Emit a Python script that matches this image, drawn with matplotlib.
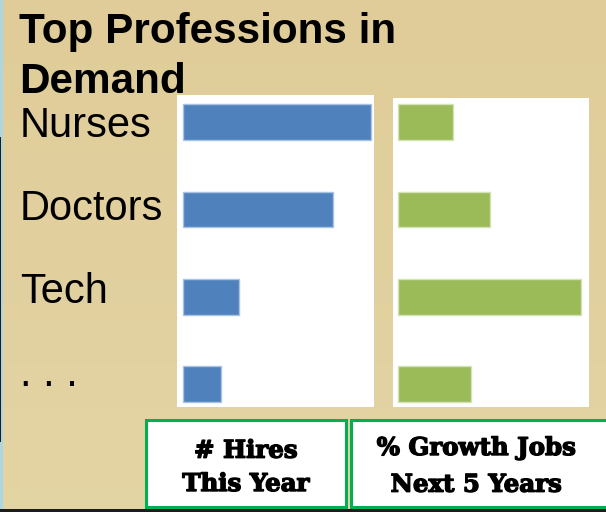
import matplotlib
matplotlib.use("Agg")
import matplotlib.pyplot as plt
import matplotlib.patheffects as pe
import numpy as np
from matplotlib.patches import Rectangle

# Data
professions = ["Nurses", "Doctors", "Tech", ". . ."]
hires_this_year = [100, 80, 30, 20]
growth_next_5_years = [30, 50, 100, 40]
title_lines = ["Top Professions in", "Demand"]
panel_captions = [["# Hires", "This Year"], ["% Growth Jobs", "Next 5 Years"]]

W, H = 606, 512
BLUE = "#4F81BD"
GREEN = "#9BBB59"
BOX_GREEN = "#00B050"

fig = plt.figure(figsize=(W / 100, H / 100), dpi=100)


def fx(px):
    return px / W


def fy(py):
    return 1 - py / H


# Tan slide background with a soft vertical gradient
bg = fig.add_axes([0, 0, 1, 1], zorder=-10)
top_c = np.array([0.875, 0.800, 0.598])
bot_c = np.array([0.894, 0.833, 0.645])
t = np.linspace(0, 1, 256)[:, None, None]
bg.imshow(top_c * (1 - t) + bot_c * t, aspect="auto", extent=[0, 1, 0, 1])
bg.set_xlim(0, 1)
bg.set_ylim(0, 1)
bg.axis("off")

# Slide edge details
fig.patches.append(Rectangle((0, 0), fx(3), 1, transform=fig.transFigure,
                             facecolor="#AED6E0", edgecolor="none", zorder=-5))
fig.patches.append(Rectangle((0, fy(442)), fx(1.2), (442 - 137) / H,
                             transform=fig.transFigure, facecolor="#1E1E1E",
                             edgecolor="none", zorder=-4))
fig.patches.append(Rectangle((0, 0), 1, 3 / H, transform=fig.transFigure,
                             facecolor="#1C1C1C", edgecolor="none", zorder=5))

ypos = np.arange(len(professions))


def style_panel(ax):
    ax.set_facecolor("white")
    ax.set_xticks([])
    ax.set_yticks([])
    for s in ax.spines.values():
        s.set_visible(False)


# Left panel: hires this year
ax1 = fig.add_axes([fx(177), fy(407), (374 - 177) / W, (407 - 95) / H])
ax1.barh(ypos, hires_this_year, height=0.41, color=BLUE,
         edgecolor="#A9C3E2", linewidth=1.0)
ax1.set_xlim(-3.19, 101.6)
ax1.set_ylim(3.26, -0.309)
style_panel(ax1)

# Right panel: growth over next five years
ax2 = fig.add_axes([fx(393), fy(407), (589 - 393) / W, (407 - 98) / H])
ax2.barh(ypos, growth_next_5_years, height=0.41, color=GREEN,
         edgecolor="#D3E3B5", linewidth=1.0)
ax2.set_xlim(-3.01, 104.4)
ax2.set_ylim(3.26, -0.275)
style_panel(ax2)

# Title
sans = ["Liberation Sans", "DejaVu Sans"]
for line, base in zip(title_lines, [43, 93]):
    fig.text(fx(19), fy(base), line, fontsize=30.4, fontweight="bold",
             family=sans, va="baseline", ha="left", color="black")

# Category labels
for name, base in zip(professions, [137, 220, 303, 386]):
    fig.text(fx(20), fy(base), name, fontsize=30, family=sans,
             va="baseline", ha="left", color="black")

# Caption boxes
boxes = [(146.2, 420.0, 346.2, 507.0), (350.8, 419.5, 612.0, 507.0)]
for (x0, y0, x1, y1) in boxes:
    fig.patches.append(Rectangle((fx(x0), fy(y1)), (x1 - x0) / W, (y1 - y0) / H,
                                 transform=fig.transFigure, facecolor="white",
                                 edgecolor=BOX_GREEN, linewidth=2.2, zorder=2))

serif = ["DejaVu Serif"]
heavy = [pe.withStroke(linewidth=1.0, foreground="black")]
caption_pos = [(245.7, [457.7, 491.0]), (476.0, [455.0, 491.7])]
for lines, (cx, bases) in zip(panel_captions, caption_pos):
    for line, base in zip(lines, bases):
        fig.text(fx(cx), fy(base), line, fontsize=17.6, fontweight="bold",
                 family=serif, va="baseline", ha="center", color="black",
                 zorder=3, path_effects=heavy)

fig.savefig("out.png", dpi=100)
